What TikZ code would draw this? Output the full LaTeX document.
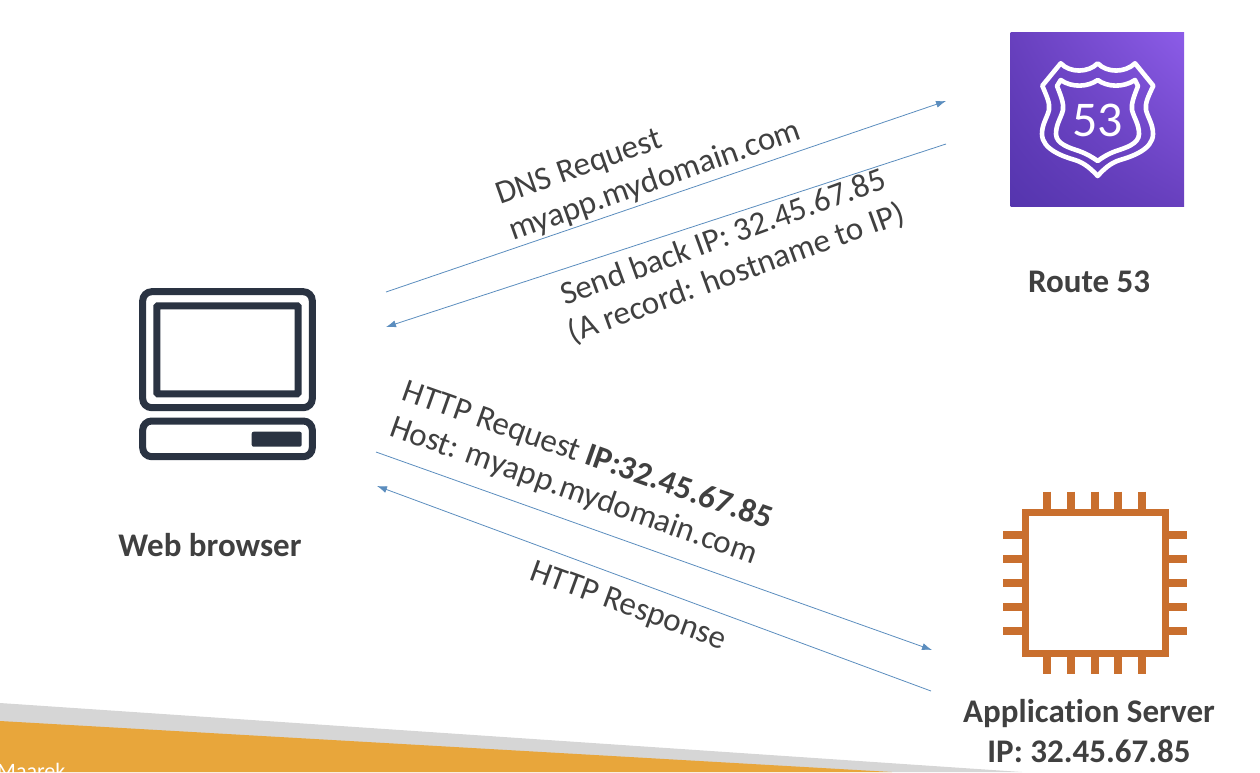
\documentclass[tikz,border=0pt]{standalone}
\usepackage{fontspec}
\setmainfont[Ligatures=NoCommon]{Carlito}
\usetikzlibrary{arrows.meta,shadings}
\definecolor{labelgray}{HTML}{404040}
\definecolor{linkblue}{HTML}{5B8DBE}
\definecolor{iconnavy}{HTML}{2A3342}
\definecolor{chiporange}{HTML}{C96F2E}
\definecolor{bandorange}{HTML}{E8A63B}
\definecolor{bandgray}{HTML}{D6D6D6}
\definecolor{purpleA}{HTML}{5535AE}
\definecolor{purpleB}{HTML}{8C5CE8}
\definecolor{purpleC}{HTML}{6840BE}
\begin{document}
\begin{tikzpicture}[x=1pt,y=-1pt,>={Latex[length=10pt,width=7pt]}]
    \tikzset{
        link/.style={->,linkblue,line width=0.8pt},
        caption/.style={text=labelgray,font=\fontsize{33}{40}\selectfont\bfseries,align=center},
        msg/.style={text=labelgray,font=\fontsize{33}{38}\selectfont},
        navy/.style={draw=iconnavy,line width=7pt,rounded corners=#1},
        pin/.style={chiporange,line width=8pt},
        shieldline/.style={draw=white,line width=4.6pt,line join=round}
    }
    \useasboundingbox (0,0) rectangle (1260,772);
    \clip (0,0) rectangle (1260,772);

    % bottom band
    \fill[bandgray]   (0,703) -- (1022,772) -- (0,772) -- cycle;
    \fill[bandorange] (0,721) -- (892,772) -- (0,772) -- cycle;
    \node (author) at (-3,778) [anchor=base west,inner sep=0pt,text=white,font=\fontsize{22}{26}\selectfont] {Maarek};

    % web browser
    \draw[navy=9pt] (142.7,291.7) rectangle (312.3,407.7);
    \draw[navy=1pt] (156.8,305.8) rectangle (298.2,393.8);
    \draw[navy=9pt] (142.7,421) rectangle (312.3,456.7);
    \fill[iconnavy,rounded corners=2pt] (251.7,431.7) rectangle (301.7,446.7);
    \node (browser) at (210,545) [caption] {Web browser};

    % route 53
    \shade[lower left=purpleA,upper right=purpleB,lower right=purpleC,upper left=purpleC]
        (1010.7,32.7) rectangle (1184,206);
    \draw[shieldline] (1060.7,63.3) .. controls (1070,73) and (1088,73) .. (1097.7,63.3)
        .. controls (1107,73) and (1125,73) .. (1135,63.3) -- (1153.3,85.7)
        .. controls (1148,97) and (1145,103) .. (1146,110) .. controls (1148,118) and (1153,124) .. (1153,134)
        .. controls (1153,150) and (1130,157) .. (1120,160) .. controls (1110,163) and (1103,170) .. (1097.7,176)
        .. controls (1092,170) and (1085,163) .. (1075,160) .. controls (1065,157) and (1042,150) .. (1042,134)
        .. controls (1042,124) and (1047,118) .. (1049,110) .. controls (1050,103) and (1047,97) .. (1042.3,85.7)
        -- cycle;
    \draw[shieldline] (1060.7,80) .. controls (1072,88) and (1088,87) .. (1097.7,80)
        .. controls (1107,87) and (1123,88) .. (1135,80) -- (1138,86)
        .. controls (1134,96) and (1131,104) .. (1132,110) .. controls (1134,118) and (1139,124) .. (1139,134)
        .. controls (1139,144) and (1125,148) .. (1116,151) .. controls (1108,154) and (1103,157) .. (1097.7,161)
        .. controls (1092,157) and (1087,154) .. (1079,151) .. controls (1070,148) and (1056,144) .. (1056,134)
        .. controls (1056,124) and (1061,118) .. (1063,110) .. controls (1064,104) and (1061,96) .. (1057,86)
        -- cycle;
    \node (shield) at (1097.5,120.5) [text=white,font=\fontsize{50}{50}\selectfont] {53};
    \node (route) at (1089,282) [caption] {Route 53};

    % application server
    \node (chip) at (1095.5,583) [draw=chiporange,line width=7.3pt,minimum size=140.5pt,inner sep=0pt] {};
    \foreach \px in {1046.7,1070.7,1094.5,1118.3,1142.3} {
        \draw[pin] (\px,491.7) -- (\px,510);
        \draw[pin] (\px,656) -- (\px,674.3);
    }
    \foreach \py in {535,559,583,606.7,630.7} {
        \draw[pin] (1003.3,\py) -- (1022,\py);
        \draw[pin] (1169,\py) -- (1187.3,\py);
    }
    \node (server) at (1089,731) [caption] {Application Server\\IP: 32.45.67.85};

    % connectors
    \coordinate (dnsfrom) at (386,292);
    \coordinate (dnsto) at (946,101);
    \coordinate (backfrom) at (946,144);
    \coordinate (backto) at (386,327);
    \coordinate (reqfrom) at (376,452);
    \coordinate (reqto) at (932,650);
    \coordinate (respfrom) at (931,691);
    \coordinate (respto) at (377,486);
    \draw[link] (dnsfrom) -- (dnsto);
    \draw[link] (backfrom) -- (backto);
    \draw[link] (reqfrom) -- (reqto);
    \draw[link] (respfrom) -- (respto);

    % labels
    \node (dnsmsg) at (649,164) [msg,rotate=19.5,align=left] {DNS Request\\myapp.mydomain.com};
    \node (backmsg) at (730,256) [msg,rotate=20,align=center] {Send back IP: 32.45.67.85\\(A record: hostname to IP)};
    \node (reqmsg) at (581,474) [msg,rotate=-19.5,align=left] {HTTP Request \textbf{IP:32.45.67.85}\\Host: myapp.mydomain.com};
    \node (respmsg) at (628,607) [msg,rotate=-20] {HTTP Response};
\end{tikzpicture}
\end{document}
